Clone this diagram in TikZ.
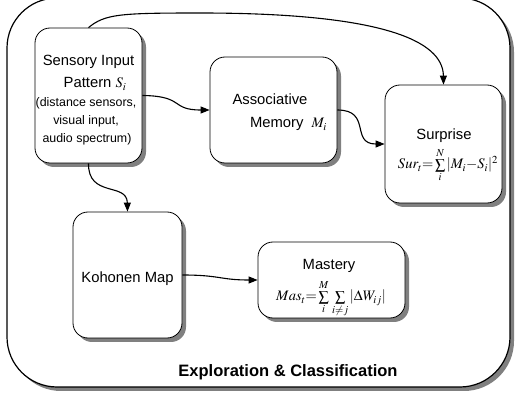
\documentclass[tikz,border=0pt]{standalone}
\usepackage{mathptmx}
\usepackage[no-math]{fontspec}
\setmainfont{Liberation Sans}
\usetikzlibrary{shadows,arrows.meta}

\tikzset{
  shade box/.style={drop shadow={shadow xshift=4pt, shadow yshift=-4pt, opacity=1, fill=black!50}},
  frame/.style={draw, line width=1.2pt, fill=white, rounded corners=50pt, shade box},
  stage/.style={draw, line width=0.8pt, fill=white, rounded corners=15pt, shade box, inner sep=0pt},
  txt/.style={anchor=base, inner sep=0pt, font=\fontsize{14.8}{18}\selectfont},
  smalltxt/.style={anchor=base, inner sep=0pt, font=\fontsize{12.4}{18}\selectfont},
  mathtxt/.style={anchor=base, inner sep=0pt, font=\fontsize{14.5}{16}\selectfont},
  link/.style={line width=1.1pt, -{Triangle[length=9pt,width=7pt]}},
}
\newcommand{\mathsz}{\fontsize{14.5}{16}\selectfont}

\begin{document}
\begin{tikzpicture}[x=1pt, y=-1pt]
\useasboundingbox (0,0) rectangle (515,401);

% outer frame
\draw[frame] (7,-2) rectangle (510,387);

% stage boxes
\node[stage, minimum width=107pt, minimum height=135pt] (sens) at (88.5,95.5) {};
\node[stage, minimum width=127pt, minimum height=106pt] (assoc) at (273.5,110) {};
\node[stage, minimum width=117pt, minimum height=118pt] (surp) at (443.5,144) {};
\node[stage, minimum width=109pt, minimum height=126pt] (koh) at (127.5,275) {};
\node[stage, minimum width=147pt, minimum height=76pt] (mast) at (331.5,280) {};

% texts of the stages
\node[txt] (sens1) at (88.5,66) {Sensory Input};
\node[txt] (sens2) at (95,88) {Pattern {\mathsz$S_i$}};
\node[smalltxt] (sens3) at (86,107) {(distance sensors,};
\node[smalltxt] (sens4) at (86,125) {visual input,};
\node[smalltxt] (sens5) at (87,143) {audio spectrum)};

\node[txt] (assoc1) at (270,105) {Associative};
\node[txt] (assoc2) at (288.5,128) {Memory~~{\mathsz$M_i$}};

\node[txt] (surp1) at (444,140) {Surprise};
\node[mathtxt] (surp2) at (448,169) {$Sur_t{=}\sum\limits_i^N|M_i{-}S_i|^2$};

\node[txt] (koh1) at (127.5,283) {Kohonen Map};

\node[txt] (mast1) at (329,270) {Mastery};
\node[mathtxt] (mast2) at (331,301) {$Mas_t{=}\sum\limits_i^M\,\sum\limits_{i\neq j}|\Delta W_{ij}|$};

\node[anchor=base, inner sep=0pt, font=\fontsize{16.5}{18}\selectfont\bfseries] (title) at (288,377)
  {Exploration \& Classification};

% connectors
\draw[link] (sens.east) .. controls (185,96) and (170,110) .. (assoc.west);
\draw[link] (assoc.east) .. controls (372,110) and (350,144) .. (surp.west);
\draw[link] (sens.north) .. controls (105,14) and (120,13) .. (200,13)
  .. controls (380,13) and (443,40) .. (surp.north);
\draw[link] (sens.south) .. controls (88,198) and (127,182) .. (koh.north);
\draw[link] (koh.east) .. controls (220,275) and (220,280) .. (mast.west);
\end{tikzpicture}
\end{document}
